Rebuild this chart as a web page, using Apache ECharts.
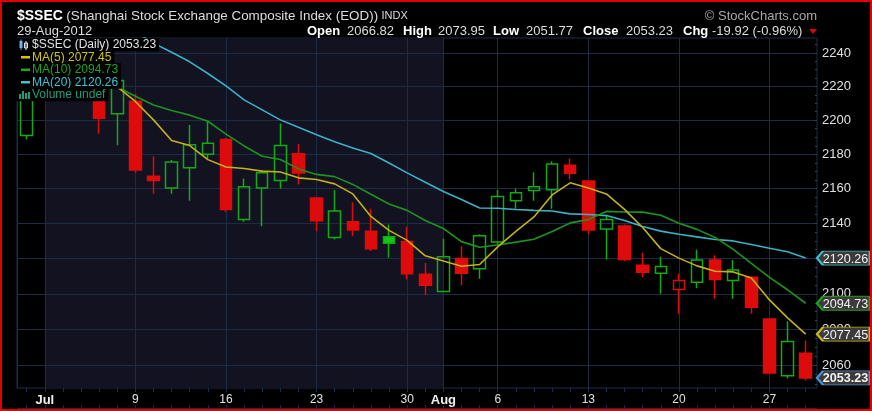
<!DOCTYPE html>
<html><head><meta charset="utf-8">
<script src="https://cdn.jsdelivr.net/npm/echarts@6/dist/echarts.min.js"></script>
<style>html,body{margin:0;padding:0;background:#000;}#c{width:872px;height:411px;}</style>
</head><body><div id="c"></div>
<script>
// ---------------- data ----------------
const dates = ['Jun 29','Jul 2','Jul 3','Jul 4','Jul 5','Jul 6','Jul 9','Jul 10','Jul 11','Jul 12','Jul 13',
  'Jul 16','Jul 17','Jul 18','Jul 19','Jul 20','Jul 23','Jul 24','Jul 25','Jul 26','Jul 27','Jul 30','Jul 31',
  'Aug 1','Aug 2','Aug 3','Aug 6','Aug 7','Aug 8','Aug 9','Aug 10','Aug 13','Aug 14','Aug 15','Aug 16','Aug 17',
  'Aug 20','Aug 21','Aug 22','Aug 23','Aug 24','Aug 27','Aug 28','Aug 29'];
const opens = [2191.0,2224.0,2222.0,2228.0,2211.2,2203.8,2211.2,2167.2,2160.4,2172.1,2180.0,
  2188.6,2142.2,2160.4,2164.7,2180.4,2154.7,2132.0,2141.0,2135.5,2132.4,2129.6,2111.1,
  2101.3,2120.0,2114.2,2129.4,2153.1,2158.9,2159.4,2173.6,2164.4,2136.8,2138.6,2116.2,2111.7,
  2102.5,2106.6,2119.2,2107.5,2109.4,2085.9,2054.5,2066.82];
const highs = [2226.5,2233.0,2232.0,2230.0,2214.0,2226.0,2215.5,2178.9,2176.7,2197.2,2199.6,
  2189.5,2165.9,2170.6,2198.0,2186.0,2154.7,2159.3,2152.2,2148.4,2139.4,2138.1,2117.5,
  2131.2,2127.0,2133.8,2159.3,2160.0,2169.6,2175.9,2177.5,2164.4,2144.5,2139.4,2123.2,2121.0,
  2111.3,2124.9,2121.8,2119.2,2109.6,2086.3,2084.6,2073.95];
const lows = [2188.6,2215.0,2216.0,2219.0,2192.1,2185.3,2169.2,2157.1,2157.1,2153.1,2177.5,
  2146.7,2141.0,2138.4,2160.0,2162.4,2135.5,2130.8,2132.6,2124.2,2120.4,2108.1,2099.4,
  2101.3,2104.9,2108.5,2128.0,2148.5,2153.1,2148.5,2165.3,2133.8,2119.4,2118.5,2109.3,2100.0,
  2088.8,2103.1,2097.3,2097.3,2088.8,2055.5,2052.9,2051.77];
const closes = [2225.4,2226.1,2229.2,2224.0,2201.2,2223.5,2170.8,2164.7,2175.5,2185.6,2186.5,
  2148.0,2161.2,2169.2,2185.2,2169.1,2141.6,2147.1,2136.2,2125.5,2128.6,2111.3,2104.9,
  2121.0,2111.7,2132.9,2155.5,2157.6,2161.2,2174.3,2169.0,2136.2,2142.2,2119.4,2112.2,2115.4,
  2107.5,2119.2,2108.1,2113.4,2092.5,2055.9,2073.4,2053.23];
const ma5 = [null,null,null,null,2221.5,2219.7,2211.1,2200.2,2188.1,2185.1,2176.9,
  2172.6,2171.7,2170.2,2169.7,2166.3,2165.3,2162.8,2157.0,2144.0,2136.0,2130.3,2121.5,
  2118.6,2115.6,2116.6,2126.6,2135.4,2143.7,2156.4,2163.4,2160.4,2157.0,2148.1,2137.7,2125.6,
  2120.2,2115.8,2112.8,2112.4,2108.9,2096.6,2086.5,2077.45];
const ma10 = [null,null,null,null,2223.9,2219.7,2214.2,2209.0,2205.7,2203.0,2199.4,
  2191.8,2184.9,2178.9,2177.0,2171.5,2168.3,2167.0,2162.5,2156.8,2151.2,2147.5,2141.7,
  2137.1,2129.6,2126.4,2127.7,2129.3,2131.0,2135.4,2140.3,2142.2,2146.9,2146.6,2146.5,2144.7,
  2140.1,2136.6,2132.0,2125.2,2117.2,2109.3,2102.3,2094.73];
const ma20 = [null,null,null,null,null,null,2252.6,2245.9,2240.4,2234.7,2227.7,
  2220.3,2212.0,2206.1,2200.2,2195.8,2191.4,2187.4,2183.7,2180.5,2174.9,2169.2,2163.7,
  2158.4,2153.8,2148.9,2148.7,2148.0,2147.5,2147.1,2145.5,2145.1,2144.5,2141.7,2138.3,2135.6,
  2133.8,2132.3,2130.8,2130.0,2128.0,2125.8,2123.8,2120.26];
const yTicks = [2060,2080,2100,2120,2140,2160,2180,2200,2220,2240];
const xLabelDates = ['Jul 2','Jul 9','Jul 16','Jul 23','Jul 30','Aug 1','Aug 6','Aug 13','Aug 20','Aug 27'];
const xLabelTexts = ['Jul','9','16','23','30','Aug','6','13','20','27'];
const quoteLabels = ['Open','High','Low','Close','Chg'];
const quoteValues = ['2066.82','2073.95','2051.77','2053.23','-19.92 (-0.96%)'];

// ---------------- style ----------------
const FONT = '"Liberation Sans", Arial, sans-serif';
const GRIDC = '#1b2d46';
const NAVY = '#121220';
const GREEN = '#14aa14', GREEN_FILL = '#10c810', RED = '#dd0b0b';
const C_MA5 = '#c4b01c', C_MA10 = '#1d941d', C_MA20 = '#38b2c6';
const YMIN = 2047.7, YMAX = 2249.0;
const minorTicks = [];
for (let v = 2050; v <= 2245; v += 5) minorTicks.push(v);

const n = dates.length;
const candleData = dates.map((d, i) => {
  const o = opens[i], c = closes[i], prev = i > 0 ? closes[i - 1] : -Infinity;
  const col = c >= prev ? GREEN : RED;
  const hollow = c > o;
  const fill = hollow ? 'rgba(0,0,0,0)' : (col === GREEN ? GREEN_FILL : col);
  return {value: [o, c, lows[i], highs[i]],
    itemStyle: {color: fill, color0: fill, borderColor: col, borderColor0: col, borderWidth: 1.5}};
});
const labelMap = {};
xLabelDates.forEach((d, k) => { labelMap[d] = xLabelTexts[k]; });
const isLabelDay = (i, v) => Object.prototype.hasOwnProperty.call(labelMap, v);

const last = n - 1;
const tagDefs = [
  {v: ma20[last], border: '#3cbccc', bold: false},
  {v: ma10[last], border: '#20a020', bold: false},
  {v: ma5[last], border: '#c8b41e', bold: false},
  {v: closes[last], border: '#4b8fcc', bold: true}
];

const chart = echarts.init(document.getElementById('c'));
const legendLines = [
  {t: '$SSEC (Daily) ' + closes[last].toFixed(2), c: '#e2e2e2'},
  {t: 'MA(5) ' + ma5[last].toFixed(2), c: '#d4c600'},
  {t: 'MA(10) ' + ma10[last].toFixed(2), c: '#20a420'},
  {t: 'MA(20) ' + ma20[last].toFixed(2), c: '#40c2d2'},
  {t: 'Volume undef', c: '#1f9c7c'}
];
const legendY = [44.7, 57.2, 69.7, 82.2, 94.7];
const graphics = [];
legendLines.forEach((l, k) => {
  graphics.push({type: 'text', x: 15, y: legendY[k], z: 100,
    style: {text: l.t, fill: l.c, font: '12px ' + FONT, backgroundColor: '#000',
      padding: [1, 3, 0, 17], lineHeight: 12, verticalAlign: 'middle', textVerticalAlign: 'middle'}});
});
// legend icons
graphics.push({type: 'rect', z: 101, shape: {x: 19.5, y: 41, width: 3, height: 7}, style: {fill: '#6fb0e8'}});
graphics.push({type: 'line', z: 101, shape: {x1: 21, y1: 39.5, x2: 21, y2: 50}, style: {stroke: '#6fb0e8', lineWidth: 1}});
graphics.push({type: 'rect', z: 101, shape: {x: 24.5, y: 43, width: 3, height: 5}, style: {fill: 'none', stroke: '#cfe4f7', lineWidth: 1}});
graphics.push({type: 'line', z: 101, shape: {x1: 26, y1: 41, x2: 26, y2: 50}, style: {stroke: '#cfe4f7', lineWidth: 1}});
[1, 2, 3].forEach(k => {
  graphics.push({type: 'rect', z: 101, shape: {x: 21, y: legendY[k] - 1.2, width: 9, height: 2.5}, style: {fill: legendLines[k].c}});
});
[[19, 5], [22, 8], [25, 6], [28, 7]].forEach(([x, h]) => {
  graphics.push({type: 'rect', z: 101, shape: {x: x, y: 100 - h - 1, width: 2, height: h}, style: {fill: '#1f9c7c'}});
});
// header
graphics.push({type: 'text', x: 17, y: 16, z: 100, style: {
  text: '{a|$SSEC} {b|(Shanghai Stock Exchange Composite Index (EOD))} {c|INDX}',
  verticalAlign: 'middle', textVerticalAlign: 'middle',
  rich: {a: {font: 'bold 14px ' + FONT, fill: '#ffffff'},
         b: {font: '13.4px ' + FONT, fill: '#dcdcdc'},
         c: {font: '11px ' + FONT, fill: '#dcdcdc'}}}});
graphics.push({type: 'text', x: 17, y: 31, z: 100, style: {text: '29-Aug-2012', font: '13px ' + FONT, fill: '#dcdcdc',
  verticalAlign: 'middle', textVerticalAlign: 'middle'}});
const qLabelX = [307, 403, 493, 583, 683];
const qValueX = [347, 438, 526, 626, 712];
quoteLabels.forEach((l, k) => {
  graphics.push({type: 'text', x: qLabelX[k], y: 31, z: 100, style: {text: l, font: 'bold 13px ' + FONT, fill: '#ffffff',
    verticalAlign: 'middle', textVerticalAlign: 'middle'}});
  graphics.push({type: 'text', x: qValueX[k], y: 31, z: 100, style: {text: quoteValues[k], font: '13px ' + FONT, fill: '#dcdcdc',
    verticalAlign: 'middle', textVerticalAlign: 'middle'}});
});
graphics.push({type: 'polygon', z: 100, shape: {points: [[809, 29], [817, 29], [813, 34]]}, style: {fill: '#e00000'}});
graphics.push({type: 'text', x: 817, y: 16, z: 100, style: {text: '\u00A9 StockCharts.com', font: '13px ' + FONT,
  fill: '#a8a8a8', align: 'right', textAlign: 'right', verticalAlign: 'middle', textVerticalAlign: 'middle'}});
// lower frame line
graphics.push({type: 'line', z: 50, shape: {x1: 17, y1: 408.5, x2: 817, y2: 408.5}, style: {stroke: GRIDC, lineWidth: 1}});
// red outer border
graphics.push({type: 'rect', z: 200, shape: {x: 1, y: 1, width: 870, height: 409}, style: {fill: 'none', stroke: '#e00000', lineWidth: 2}});

const option = {
  backgroundColor: '#000',
  animation: false,
  grid: [
    {left: 17, right: 55, top: 38, bottom: 23, show: true, backgroundColor: '#000', borderColor: GRIDC, borderWidth: 1},
    {left: 26.7, right: 66.3, top: 38, bottom: 23}
  ],
  xAxis: [
    {gridIndex: 0, type: 'value', min: 0, max: 1, show: false},
    {gridIndex: 1, type: 'category', data: dates, boundaryGap: false, z: 2,
      axisLine: {show: false},
      axisTick: {show: true, interval: 0, length: 4, lineStyle: {color: GRIDC}},
      axisLabel: {interval: isLabelDay, margin: 6, color: '#e0e0e0', fontSize: 12, fontFamily: FONT,
        formatter: v => { const t = labelMap[v]; return t === undefined ? '' : (isNaN(+t) ? '{b|' + t + '}' : t); },
        rich: {b: {fontWeight: 'bold', fontSize: 13, color: '#f0f0f0', fontFamily: FONT}}},
      splitLine: {show: true, interval: isLabelDay, lineStyle: {color: GRIDC, width: 1}}},
    {gridIndex: 1, type: 'category', data: dates, boundaryGap: false, position: 'bottom', offset: 20, z: 2,
      axisLine: {show: false}, axisLabel: {show: false}, splitLine: {show: false},
      axisTick: {show: true, inside: true, interval: 0, length: 3, lineStyle: {color: GRIDC}}}
  ],
  yAxis: [
    {gridIndex: 0, type: 'log', logBase: 10, min: YMIN, max: YMAX, position: 'right', z: 2,
      axisLine: {show: true, lineStyle: {color: GRIDC}},
      axisTick: {show: true, customValues: yTicks, length: 5, lineStyle: {color: GRIDC}},
      axisLabel: {show: true, customValues: yTicks, margin: 5, color: '#e0e0e0', fontSize: 13, fontFamily: FONT,
        formatter: v => String(Math.round(v))},
      splitLine: {show: true, lineStyle: {color: GRIDC, width: 1}}},
    {gridIndex: 0, type: 'log', logBase: 10, min: YMIN, max: YMAX, position: 'right', z: 2,
      axisLine: {show: false}, axisLabel: {show: false}, splitLine: {show: false},
      axisTick: {show: true, inside: true, length: 2, customValues: minorTicks, lineStyle: {color: '#2a4466'}}},
    {gridIndex: 1, type: 'log', logBase: 10, min: YMIN, max: YMAX, show: false}
  ],
  series: [
    {name: 'SSEC', type: 'candlestick', xAxisIndex: 1, yAxisIndex: 2, z: 3, barWidth: 12,
      data: candleData,
      markArea: {silent: true, z: 1, itemStyle: {color: NAVY},
        data: [[{xAxis: 'Jul 2'}, {xAxis: 'Aug 1'}]]}},
    {name: 'MA(20)', type: 'line', xAxisIndex: 1, yAxisIndex: 2, z: 4, data: ma20, symbol: 'none',
      lineStyle: {color: C_MA20, width: 1.6}},
    {name: 'MA(10)', type: 'line', xAxisIndex: 1, yAxisIndex: 2, z: 4, data: ma10, symbol: 'none',
      lineStyle: {color: C_MA10, width: 1.6}},
    {name: 'MA(5)', type: 'line', xAxisIndex: 1, yAxisIndex: 2, z: 5, data: ma5, symbol: 'none',
      lineStyle: {color: C_MA5, width: 1.6}},
    {name: 'tags', type: 'scatter', xAxisIndex: 1, yAxisIndex: 2, data: [], clip: false, z: 10,
      markPoint: {silent: true, z: 10,
        symbol: 'path://M0,7L6,0L53,0L53,14L6,14Z', symbolSize: [53, 14], symbolOffset: [37.8, 0],
        data: tagDefs.map(t => ({coord: [dates[last], t.v], value: t.v,
          itemStyle: {color: '#3b3b3b', borderColor: t.border, borderWidth: 1.5},
          label: {show: true, position: 'inside', offset: [2, 1], color: '#f2f2f2', fontSize: 12.6, fontFamily: FONT,
            fontWeight: t.bold ? 'bold' : 'normal', formatter: p => p.value.toFixed(2)}}))}}
  ],
  graphic: {elements: graphics}
};
chart.setOption(option);
</script></body></html>
